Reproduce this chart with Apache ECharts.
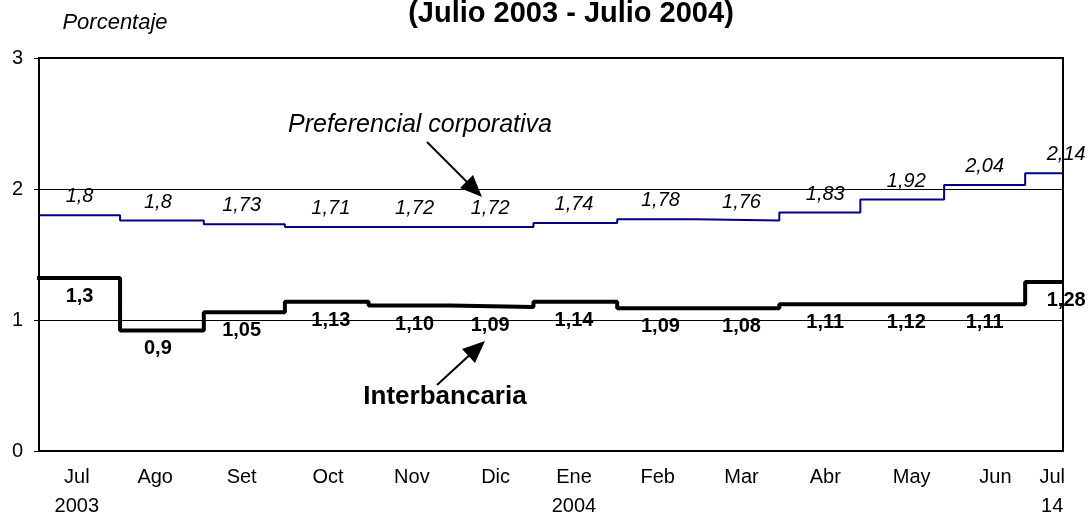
<!DOCTYPE html>
<html>
<head>
<meta charset="utf-8">
<script src="https://cdn.jsdelivr.net/npm/echarts@6/dist/echarts.min.js"></script>
<style>
  html, body { margin: 0; padding: 0; background: #fff; }
  #chart { width: 1090px; height: 514px; }
</style>
</head>
<body>
<div id="chart"></div>
<script>
// Tasas interbancaria y preferencial corporativa, Jul 2003 - Jul 2004

// month start of each value, and the end of the axis
var monthStarts = ['2003-07-01', '2003-08-01', '2003-09-01', '2003-10-01', '2003-11-01', '2003-12-01',
                   '2004-01-01', '2004-02-01', '2004-03-01', '2004-04-01', '2004-05-01', '2004-06-01', '2004-07-01'];
var axisStart = '2003-07-02';
var axisEnd = '2004-07-15';

var preferencial = [1.80, 1.76, 1.73, 1.71, 1.71, 1.71, 1.74, 1.77, 1.76, 1.82, 1.92, 2.03, 2.12];
var preferencialLabels = ['1,8', '1,8', '1,73', '1,71', '1,72', '1,72', '1,74', '1,78', '1,76', '1,83', '1,92', '2,04', '2,14'];

var interbancaria = [1.32, 0.92, 1.06, 1.14, 1.11, 1.10, 1.14, 1.09, 1.09, 1.12, 1.12, 1.12, 1.29];
var interbancariaLabels = ['1,3', '0,9', '1,05', '1,13', '1,10', '1,09', '1,14', '1,09', '1,08', '1,11', '1,12', '1,11', '1,28'];

// where the value labels sit
var valueLabelDates = ['2003-07-17', '2003-08-15', '2003-09-15', '2003-10-18', '2003-11-18', '2003-12-16',
                       '2004-01-16', '2004-02-17', '2004-03-18', '2004-04-18', '2004-05-18', '2004-06-16', '2004-07-11'];

// axis tick labels
var tickDates = ['2003-07-16', '2003-08-14', '2003-09-15', '2003-10-17', '2003-11-17', '2003-12-18',
                 '2004-01-16', '2004-02-16', '2004-03-18', '2004-04-18', '2004-05-20', '2004-06-20', '2004-07-11'];
var tickMonths = ['Jul', 'Ago', 'Set', 'Oct', 'Nov', 'Dic', 'Ene', 'Feb', 'Mar', 'Abr', 'May', 'Jun', 'Jul'];
var tickYears = ['2003', '', '', '', '', '', '2004', '', '', '', '', '', '14'];

// days since 2003-07-01
var DAY = 86400000;
var origin = Date.UTC(2003, 6, 1);
function t(s) {
    var p = s.split('-');
    return Math.round((Date.UTC(+p[0], +p[1] - 1, +p[2]) - origin) / DAY);
}

function stepData(values) {
    var out = [];
    for (var i = 0; i < values.length; i++) {
        var end = i < values.length - 1 ? monthStarts[i + 1] : axisEnd;
        out.push([t(monthStarts[i]), values[i]]);
        out.push([t(end), values[i]]);
    }
    return out;
}

function labelData(values, labels) {
    var out = [];
    for (var i = 0; i < values.length; i++) {
        var item = { value: [t(valueLabelDates[i]), values[i]], name: labels[i] };
        if (i === values.length - 1) item.label = { offset: [14, 0] };
        out.push(item);
    }
    return out;
}

var tickDays = tickDates.map(t);
var font = 'Liberation Sans, Arial, sans-serif';

var myChart = echarts.init(document.getElementById('chart'));

var option = {
    animation: false,
    textStyle: { fontFamily: font, color: '#000' },
    grid: {
        left: 39, right: 27, top: 58, bottom: 63,
        outerBoundsMode: 'none',
        containLabel: false,
        show: true, borderColor: '#000', borderWidth: 2
    },
    xAxis: {
        type: 'value',
        min: t(axisStart),
        max: t(axisEnd),
        axisLine: { onZero: false, lineStyle: { color: '#000', width: 2 } },
        axisTick: { show: false },
        splitLine: { show: false },
        axisLabel: {
            customValues: tickDays,
            showMinLabel: true,
            showMaxLabel: true,
            margin: 12,
            fontSize: 20,
            lineHeight: 29,
            color: '#000',
            fontFamily: font,
            formatter: function (val) {
                var i = tickDays.indexOf(Math.round(val));
                if (i < 0) return '';
                return tickYears[i] ? tickMonths[i] + '\n' + tickYears[i] : tickMonths[i];
            }
        }
    },
    yAxis: {
        type: 'value',
        min: 0, max: 3, interval: 1,
        axisLine: { show: true, lineStyle: { color: '#000', width: 2 } },
        axisTick: { show: true, length: 5, lineStyle: { color: '#000', width: 1 } },
        splitLine: { show: true, lineStyle: { color: '#000', width: 1 } },
        axisLabel: { margin: 16, fontSize: 20, color: '#000', fontFamily: font }
    },
    series: [
        {
            name: 'Preferencial corporativa',
            type: 'line',
            data: stepData(preferencial),
            showSymbol: false,
            lineStyle: { color: '#000080', width: 2 },
            z: 3
        },
        {
            name: 'Interbancaria',
            type: 'line',
            data: stepData(interbancaria),
            showSymbol: false,
            lineStyle: { color: '#000', width: 4 },
            z: 4
        },
        {
            type: 'scatter',
            data: labelData(preferencial, preferencialLabels),
            symbolSize: 1,
            itemStyle: { color: 'rgba(0,0,0,0)', opacity: 1 },
            clip: false,
            silent: true,
            label: {
                show: true, position: 'top', distance: 8,
                formatter: '{b}', fontSize: 20, fontStyle: 'italic', color: '#000', fontFamily: font
            },
            z: 5
        },
        {
            type: 'scatter',
            data: labelData(interbancaria, interbancariaLabels),
            symbolSize: 1,
            itemStyle: { color: 'rgba(0,0,0,0)', opacity: 1 },
            clip: false,
            silent: true,
            label: {
                show: true, position: 'bottom', distance: 8,
                formatter: '{b}', fontSize: 20, fontWeight: 'bold', color: '#000', fontFamily: font
            },
            z: 5
        }
    ],
    graphic: [
        {
            type: 'text', x: 571, y: 14, z: 10,
            style: {
                text: '(Julio 2003 - Julio 2004)',
                font: 'bold 29px ' + font, fill: '#000',
                align: 'center', verticalAlign: 'middle'
            }
        },
        {
            type: 'text', x: 115, y: 23, z: 10,
            style: {
                text: 'Porcentaje',
                font: 'italic 22px ' + font, fill: '#000',
                align: 'center', verticalAlign: 'middle'
            }
        },
        {
            type: 'text', x: 420, y: 125, z: 10,
            style: {
                text: 'Preferencial corporativa',
                font: 'italic 25px ' + font, fill: '#000',
                align: 'center', verticalAlign: 'middle'
            }
        },
        {
            type: 'text', x: 445, y: 397, z: 10,
            style: {
                text: 'Interbancaria',
                font: 'bold 26px ' + font, fill: '#000',
                align: 'center', verticalAlign: 'middle'
            }
        },
        // arrows
        {
            type: 'line', z: 10,
            shape: { x1: 427, y1: 142, x2: 470, y2: 185 },
            style: { stroke: '#000', lineWidth: 2 }
        },
        {
            type: 'polygon', z: 10,
            shape: { points: [[482, 197], [460, 188], [473, 175]] },
            style: { fill: '#000' }
        },
        {
            type: 'line', z: 10,
            shape: { x1: 437, y1: 385, x2: 474, y2: 351 },
            style: { stroke: '#000', lineWidth: 2 }
        },
        {
            type: 'polygon', z: 10,
            shape: { points: [[485, 341], [475, 363], [462, 349]] },
            style: { fill: '#000' }
        }
    ]
};

myChart.setOption(option);
</script>
</body>
</html>
